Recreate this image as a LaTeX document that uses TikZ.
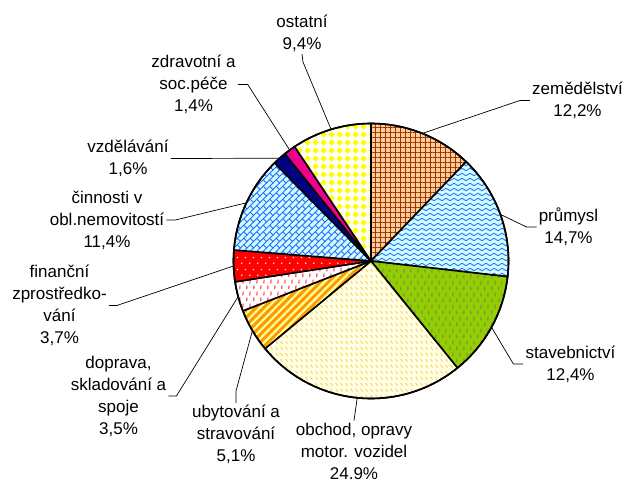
\documentclass[tikz,border=0pt]{standalone}
\usepackage{fontspec}
\setmainfont{Liberation Sans}
\usepackage{tikz}
\usetikzlibrary{calc,patterns,patterns.meta}

\definecolor{peach}{HTML}{FFCC99}
\definecolor{rust}{HTML}{993300}
\definecolor{paleblue}{HTML}{CCFFFF}
\definecolor{royal}{HTML}{3366FF}
\definecolor{grass}{HTML}{99CC00}
\definecolor{seagreen}{HTML}{339966}
\definecolor{cream}{HTML}{FFFFE6}
\definecolor{gold}{HTML}{FFCC44}
\definecolor{amber}{HTML}{FF9900}
\definecolor{lemon}{HTML}{FFFF99}
\definecolor{navyblue}{HTML}{000080}

\newcommand\pieR{137.5}
\newcommand\pieK{3.5892}

\pgfdeclarepatternformonly{secwaves}{\pgfqpoint{-0.5pt}{-0.5pt}}{\pgfqpoint{8.5pt}{5.5pt}}{\pgfqpoint{8pt}{5pt}}{%
  \pgfsetlinewidth{0.8pt}
  \pgfpathmoveto{\pgfqpoint{0pt}{2.5pt}}
  \pgfpathcurveto{\pgfqpoint{1.5pt}{0.8pt}}{\pgfqpoint{2.5pt}{0.8pt}}{\pgfqpoint{4pt}{2.5pt}}
  \pgfpathcurveto{\pgfqpoint{5.5pt}{4.2pt}}{\pgfqpoint{6.5pt}{4.2pt}}{\pgfqpoint{8pt}{2.5pt}}
  \pgfusepath{stroke}}
\pgfdeclarepatternformonly{secbricks}{\pgfqpoint{-0.5pt}{-0.5pt}}{\pgfqpoint{7pt}{7pt}}{\pgfqpoint{6.5pt}{6.5pt}}{%
  \pgfsetlinewidth{0.8pt}
  \pgfpathmoveto{\pgfqpoint{-0.5pt}{-0.5pt}}\pgfpathlineto{\pgfqpoint{7pt}{7pt}}
  \pgfpathmoveto{\pgfqpoint{6.5pt}{0pt}}\pgfpathlineto{\pgfqpoint{3.25pt}{3.25pt}}
  \pgfusepath{stroke}}
\pgfdeclarepatternformonly{secticks}{\pgfqpoint{0pt}{0pt}}{\pgfqpoint{7pt}{12pt}}{\pgfqpoint{7pt}{12pt}}{%
  \pgfsetlinewidth{1pt}
  \pgfpathmoveto{\pgfqpoint{2pt}{1pt}}\pgfpathlineto{\pgfqpoint{2.3pt}{5pt}}
  \pgfpathmoveto{\pgfqpoint{5.5pt}{7pt}}\pgfpathlineto{\pgfqpoint{5.8pt}{11pt}}
  \pgfusepath{stroke}}
\pgfdeclarepatternformonly{secslashes}{\pgfqpoint{0pt}{0pt}}{\pgfqpoint{5pt}{6pt}}{\pgfqpoint{5pt}{6pt}}{%
  \pgfsetlinewidth{1pt}
  \pgfpathmoveto{\pgfqpoint{0.8pt}{4.6pt}}\pgfpathlineto{\pgfqpoint{3pt}{1.6pt}}
  \pgfusepath{stroke}}
\pgfdeclarepatternformonly{secdots}{\pgfqpoint{0pt}{0pt}}{\pgfqpoint{8pt}{12pt}}{\pgfqpoint{8pt}{12pt}}{%
  \pgfpathcircle{\pgfqpoint{2pt}{3pt}}{0.9pt}
  \pgfpathcircle{\pgfqpoint{6pt}{9pt}}{0.9pt}
  \pgfusepath{fill}}
\pgfdeclarepatternformonly{secdiamonds}{\pgfqpoint{0pt}{0pt}}{\pgfqpoint{8pt}{8pt}}{\pgfqpoint{8pt}{8pt}}{%
  \pgfpathmoveto{\pgfqpoint{4pt}{0.4pt}}\pgfpathlineto{\pgfqpoint{7.6pt}{4pt}}
  \pgfpathlineto{\pgfqpoint{4pt}{7.6pt}}\pgfpathlineto{\pgfqpoint{0.4pt}{4pt}}
  \pgfpathclose\pgfusepath{fill}}

\tikzset{
  lbl/.style={align=center, inner sep=2pt, font=\fontsize{17}{22}\selectfont},
  leader/.style={draw=black, line width=0.7pt},
  slice/.style={draw=black, line width=1.6pt, line join=round},
  zemSlice/.style={preaction={fill=peach}, pattern={Hatch[distance=5pt, line width=0.8pt]}, pattern color=rust},
  prumSlice/.style={preaction={fill=paleblue}, pattern=secwaves, pattern color=royal},
  stavSlice/.style={preaction={fill=grass}, pattern=secticks, pattern color=seagreen},
  obchSlice/.style={preaction={fill=cream}, pattern=secslashes, pattern color=gold},
  ubytSlice/.style={preaction={fill=amber}, pattern={Lines[angle=45, distance=5.5pt, line width=2.2pt]}, pattern color=lemon},
  doprSlice/.style={preaction={fill=white}, pattern=secticks, pattern color=red},
  finSlice/.style={preaction={fill=red}, pattern=secdots, pattern color=white},
  nemSlice/.style={preaction={fill=paleblue}, pattern=secbricks, pattern color=royal},
  vzdSlice/.style={fill=navyblue},
  zdrSlice/.style={fill=magenta},
  ostSlice/.style={preaction={fill=white}, pattern=secdiamonds, pattern color=yellow}
}

\begin{document}
\begin{tikzpicture}[x=1pt, y=1pt]
  \useasboundingbox (0,0) rectangle (626,482);
  \coordinate (c) at (371,221);

  % slices, clockwise from the top
  \foreach \a/\b/\st/\nm in {0/12.2/zemSlice/zemE, 12.2/26.9/prumSlice/prumE,
      26.9/39.3/stavSlice/stavE, 39.3/64.2/obchSlice/obchE, 64.2/69.3/ubytSlice/ubytE,
      69.3/72.8/doprSlice/doprE, 72.8/76.5/finSlice/finE, 76.5/87.9/nemSlice/nemE,
      87.9/89.5/vzdSlice/vzdE, 89.5/90.9/zdrSlice/zdrE, 90.9/100.3/ostSlice/ostE} {
    \draw[slice, \st] (c) -- ++({90-\a*\pieK}:\pieR)
      arc[start angle={90-\a*\pieK}, end angle={90-\b*\pieK}, radius=\pieR] -- cycle;
    \path (c) ++({90-(\a+\b)/2*\pieK}:\pieR) coordinate (\nm);
  }
  \draw[line width=1.6pt] (c) circle[radius=\pieR];

  \node[lbl] (zem) at (577.5,381.5) {zemědělství\\12,2\%};
  \node[lbl] (prum) at (568.5,255) {průmysl\\14,7\%};
  \node[lbl] (stav) at (570.5,118) {stavebnictví\\12,4\%};
  \node[lbl] (obch) at (354,31) {obchod, opravy\\motor. vozidel\\24.9\%};
  \node[lbl] (ubyt) at (236,47.5) {ubytování a\\stravování\\5,1\%};
  \node[lbl] (dopr) at (118.5,86) {doprava,\\skladování a\\spoje\\3,5\%};
  \node[lbl] (fin) at (59.5,176.5) {finanční\\zprostředko-\\vání\\3,7\%};
  \node[lbl] (nem) at (107,262) {činnosti v\\obl.nemovitostí\\11,4\%};
  \node[lbl] (vzd) at (128,323.5) {vzdělávání\\1,6\%};
  \node[lbl] (zdr) at (193.5,397.5) {zdravotní a\\soc.péče\\1,4\%};
  \node[lbl] (ost) at (302,448.5) {ostatní\\9,4\%};

  \draw[leader] (zem.west) -- ++(-10,0) -- (zemE);
  \draw[leader] (prum.west) -- ++(-10,0) -- (prumE);
  \draw[leader] (stav.west) -- ++(-10,0) -- (stavE);
  \draw[leader] (obch.north) -- (obchE);
  \draw[leader] (ubyt.north) -- ++(0,12) -- (ubytE);
  \draw[leader] (dopr.east) -- ++(8,0) -- (doprE);
  \draw[leader] (fin.east) -- ++(8,0) -- (finE);
  \draw[leader] (nem.east) -- ++(9,0) -- (nemE);
  \draw[leader] (vzd.east) -- (vzdE);
  \draw[leader] (zdr.east) -- ++(10,0) -- (zdrE);
  \draw[leader] (ost.south) -- ++(1,-8) -- (ostE);
\end{tikzpicture}
\end{document}
